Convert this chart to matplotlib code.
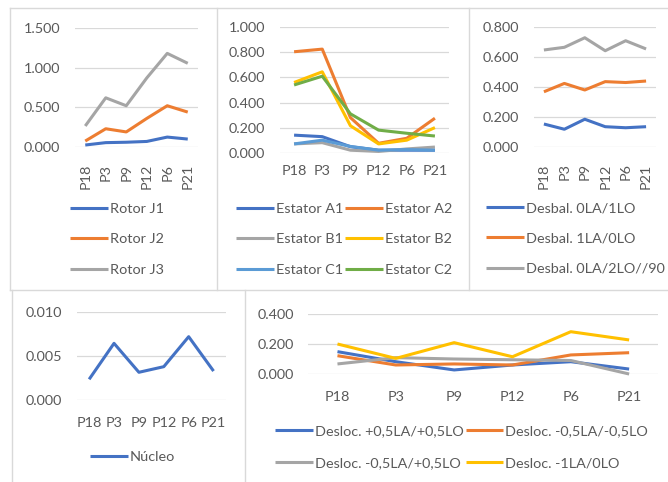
import matplotlib
matplotlib.use("Agg")
import matplotlib.pyplot as plt
from matplotlib.lines import Line2D

W, H = 668, 482
plt.rcParams['font.family'] = ['Lato', 'DejaVu Sans']
FS = 10.4
TXT = '#595959'
GRID = '#d9d9d9'

categories = ["P18", "P3", "P9", "P12", "P6", "P21"]

rotor_labels = ["Rotor J1", "Rotor J2", "Rotor J3"]
rotor_j1 = [0.025, 0.055, 0.060, 0.070, 0.125, 0.100]
rotor_j2 = [0.075, 0.230, 0.190, 0.360, 0.520, 0.440]
rotor_j3 = [0.265, 0.620, 0.520, 0.870, 1.180, 1.055]

estator_labels = ["Estator A1", "Estator A2", "Estator B1", "Estator B2", "Estator C1", "Estator C2"]
estator_a1 = [0.140, 0.128, 0.048, 0.020, 0.020, 0.020]
estator_a2 = [0.805, 0.826, 0.280, 0.075, 0.115, 0.275]
estator_b1 = [0.070, 0.080, 0.020, 0.010, 0.030, 0.045]
estator_b2 = [0.560, 0.645, 0.215, 0.070, 0.100, 0.200]
estator_c1 = [0.070, 0.100, 0.050, 0.020, 0.025, 0.020]
estator_c2 = [0.540, 0.610, 0.310, 0.180, 0.155, 0.133]

desbal_labels = ["Desbal. 0LA/1LO", "Desbal. 1LA/0LO", "Desbal. 0LA/2LO//90"]
desbal_1 = [0.152, 0.117, 0.184, 0.134, 0.127, 0.134]
desbal_2 = [0.368, 0.424, 0.380, 0.436, 0.430, 0.440]
desbal_3 = [0.648, 0.666, 0.730, 0.643, 0.710, 0.655]

nucleo_labels = ["Núcleo"]
nucleo = [0.00236, 0.00646, 0.00316, 0.00380, 0.00722, 0.00330]

desloc_labels = ["Desloc. +0,5LA/+0,5LO", "Desloc. -0,5LA/-0,5LO",
                 "Desloc. -0,5LA/+0,5LO", "Desloc. -1LA/0LO"]
desloc_1 = [0.149, 0.082, 0.027, 0.060, 0.082, 0.033]
desloc_2 = [0.122, 0.060, 0.067, 0.060, 0.127, 0.142]
desloc_3 = [0.067, 0.109, 0.100, 0.095, 0.090, 0.000]
desloc_4 = [0.200, 0.104, 0.209, 0.115, 0.282, 0.227]

BLUE, ORANGE, GRAY, YELLOW, LBLUE, GREEN = '#4472C4', '#ED7D31', '#A5A5A5', '#FFC000', '#5B9BD5', '#70AD47'

fig = plt.figure(figsize=(W / 100, H / 100), dpi=100)

# panel borders
def fline(x0, y0, x1, y1):
    fig.add_artist(Line2D([x0 / W, x1 / W], [1 - y0 / H, 1 - y1 / H], color=GRID, lw=1.0))

fline(10, 8, 668, 8)
fline(10, 8, 10, 290)
fline(217, 8, 217, 290)
fline(469, 8, 469, 290)
fline(10, 290, 668, 290)
fline(12, 290, 12, 482)
fline(245, 290, 245, 482)


def make_ax(x0, x1, ytop, ybot, ymax, yticks, fmt, series, colors, rot, xpad):
    ax = fig.add_axes([x0 / W, 1 - ybot / H, (x1 - x0) / W, (ybot - ytop) / H])
    x = list(range(len(categories)))
    handles = []
    for s, c in zip(series, colors):
        h, = ax.plot(x, s, color=c, lw=2.2, solid_capstyle='butt', clip_on=False, zorder=3)
        handles.append(h)
    ax.set_xlim(-0.5, len(categories) - 0.5)
    ax.set_ylim(0, ymax)
    ax.set_yticks(yticks)
    ax.set_yticklabels([fmt.format(v) for v in yticks])
    ax.set_xticks(x)
    ax.set_xticklabels(categories, rotation=rot)
    ax.grid(axis='y', color=GRID, lw=0.9)
    ax.set_axisbelow(True)
    for sp in ax.spines.values():
        sp.set_visible(False)
    ax.tick_params(axis='y', length=0, pad=10.5, labelsize=FS, labelcolor=TXT)
    ax.tick_params(axis='x', length=0, pad=xpad, labelsize=FS, labelcolor=TXT)
    return ax, handles


def add_legend(handles, labels, x_left, y_top, ncol, colsp=0.5, lsp=1.0):
    fig.legend(handles, labels, loc='upper left',
               bbox_to_anchor=(x_left / W, 1 - y_top / H), ncol=ncol,
               frameon=False, fontsize=FS, handlelength=2.6, handletextpad=0.15,
               labelspacing=lsp, columnspacing=colsp, borderpad=0, borderaxespad=0,
               labelcolor=TXT)


# Rotor
ax1, h1 = make_ax(75, 198, 28, 147, 1.5, [0, 0.5, 1.0, 1.5], "{:.3f}",
                  [rotor_j1, rotor_j2, rotor_j3], [BLUE, ORANGE, GRAY], 90, 12)
add_legend(h1, rotor_labels, 70, 203, 1, lsp=1.26)

# Estator
ax2, h2 = make_ax(280, 449, 27.3, 152.7, 1.0, [0, 0.2, 0.4, 0.6, 0.8, 1.0], "{:.3f}",
                  [estator_a1, estator_a2, estator_b1, estator_b2, estator_c1, estator_c2],
                  [BLUE, ORANGE, GRAY, YELLOW, LBLUE, GREEN], 0, 9)
order = [0, 2, 4, 1, 3, 5]
add_legend([h2[i] for i in order], [estator_labels[i] for i in order], 236, 203, 2, colsp=0.15, lsp=1.26)

# Desbal
ax3, h3 = make_ax(533.7, 656.3, 27.3, 146.7, 0.8, [0, 0.2, 0.4, 0.6, 0.8], "{:.3f}",
                  [desbal_1, desbal_2, desbal_3], [BLUE, ORANGE, GRAY], 90, 12)
add_legend(h3, desbal_labels, 486, 202, 1, lsp=1.26)

# Nucleo
ax4, h4 = make_ax(76.7, 226, 312.3, 400, 0.010, [0, 0.005, 0.010], "{:.3f}",
                  [nucleo], [BLUE], 0, 12)
add_legend(h4, nucleo_labels, 90, 451, 1)

# Desloc
ax5, h5 = make_ax(308.3, 658.3, 314, 374, 0.4, [0, 0.2, 0.4], "{:.3f}",
                  [desloc_1, desloc_2, desloc_3, desloc_4], [BLUE, ORANGE, GRAY, YELLOW], 0, 12)
order5 = [0, 2, 1, 3]
add_legend([h5[i] for i in order5], [desloc_labels[i] for i in order5], 275, 425, 2, colsp=0.15, lsp=1.38)

fig.savefig("out.png", dpi=100)
